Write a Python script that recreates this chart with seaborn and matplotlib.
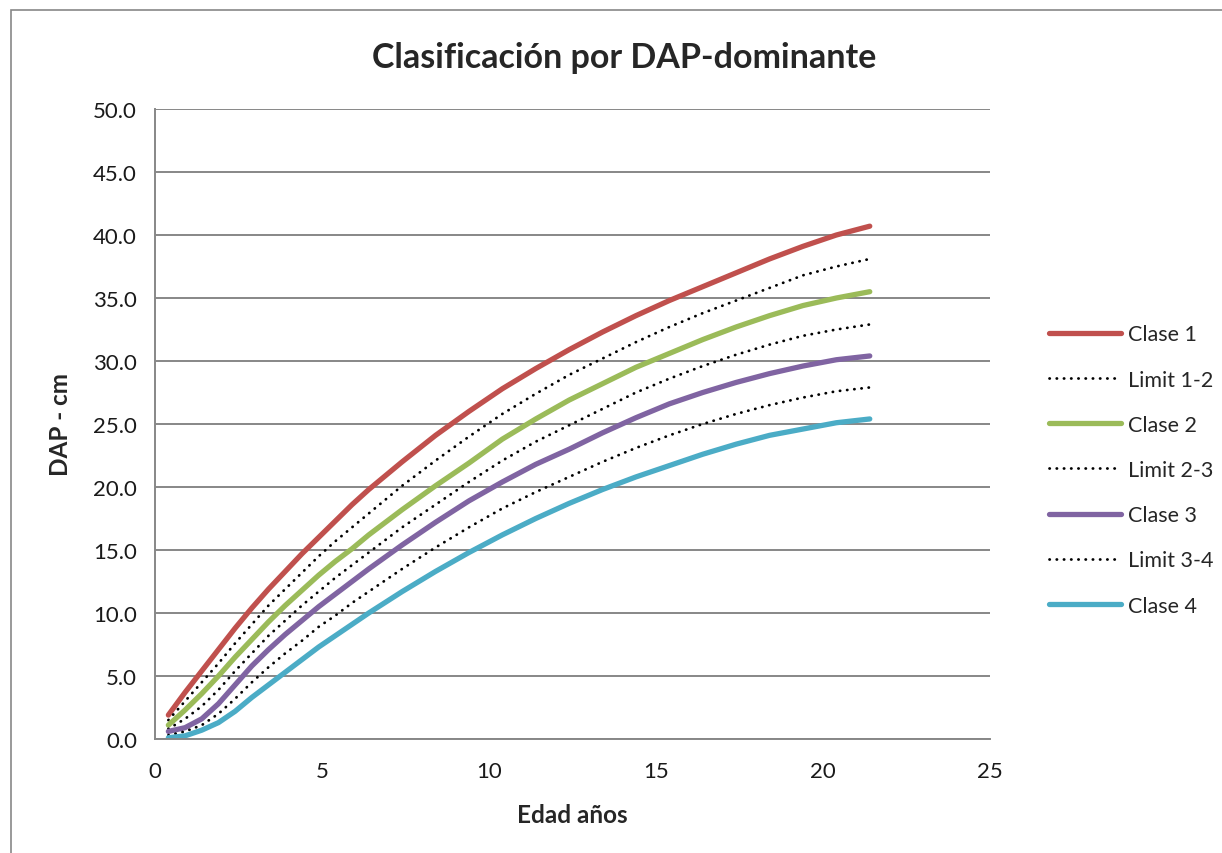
import matplotlib
matplotlib.use("Agg")
import matplotlib.pyplot as plt
import numpy as np
import pandas as pd
import seaborn as sns
from matplotlib.patches import Rectangle

# edad (años) y DAP (cm)
edad = [0.4, 0.9, 1.4, 1.9, 2.4, 2.9, 3.4, 3.9, 4.4, 4.9, 5.4, 5.9, 6.4,
        7.4, 8.4, 9.4, 10.4, 11.4, 12.4, 13.4, 14.4, 15.4, 16.4, 17.4,
        18.4, 19.4, 20.4, 21.4]

clase_1 = [1.9, 3.7, 5.4, 7.1, 8.8, 10.4, 11.9, 13.3, 14.7, 16.0, 17.3, 18.6, 19.8,
           22.0, 24.1, 26.0, 27.8, 29.4, 30.9, 32.3, 33.6, 34.8, 35.9, 37.0,
           38.1, 39.1, 40.0, 40.7]
limit_12 = [1.5, 3.0, 4.5, 6.0, 7.6, 9.1, 10.6, 11.9, 13.2, 14.5, 15.7, 16.8, 17.9,
            20.1, 22.1, 24.0, 25.8, 27.4, 28.9, 30.2, 31.5, 32.7, 33.8, 34.8,
            35.8, 36.8, 37.5, 38.1]
clase_2 = [1.1, 2.3, 3.6, 5.0, 6.5, 7.9, 9.3, 10.6, 11.8, 13.0, 14.1, 15.1, 16.2,
           18.2, 20.1, 21.9, 23.8, 25.4, 26.9, 28.2, 29.5, 30.6, 31.7, 32.7,
           33.6, 34.4, 35.0, 35.5]
limit_23 = [0.8, 1.6, 2.6, 3.9, 5.4, 6.8, 8.2, 9.4, 10.6, 11.7, 12.8, 13.8, 14.8,
            16.8, 18.6, 20.4, 22.1, 23.6, 24.9, 26.2, 27.5, 28.6, 29.6, 30.5,
            31.3, 32.0, 32.5, 32.9]
clase_3 = [0.6, 0.9, 1.6, 2.8, 4.3, 5.8, 7.1, 8.3, 9.4, 10.5, 11.5, 12.5, 13.5,
           15.4, 17.2, 18.9, 20.4, 21.8, 23.0, 24.3, 25.5, 26.6, 27.5, 28.3,
           29.0, 29.6, 30.1, 30.4]
limit_34 = [0.3, 0.6, 1.1, 2.0, 3.2, 4.5, 5.7, 6.8, 7.8, 8.9, 9.8, 10.8, 11.7,
            13.5, 15.2, 16.8, 18.3, 19.6, 20.8, 22.0, 23.1, 24.1, 25.0, 25.8,
            26.5, 27.1, 27.6, 27.9]
clase_4 = [0.1, 0.25, 0.7, 1.3, 2.2, 3.3, 4.3, 5.3, 6.3, 7.3, 8.2, 9.1, 10.0,
           11.7, 13.3, 14.8, 16.2, 17.5, 18.7, 19.8, 20.8, 21.7, 22.6, 23.4,
           24.1, 24.6, 25.1, 25.4]

series = [
    ("Clase 1", clase_1, "#C0504D", "-"),
    ("Limit 1-2", limit_12, "black", ":"),
    ("Clase 2", clase_2, "#9BBB59", "-"),
    ("Limit 2-3", limit_23, "black", ":"),
    ("Clase 3", clase_3, "#8064A2", "-"),
    ("Limit 3-4", limit_34, "black", ":"),
    ("Clase 4", clase_4, "#4BACC6", "-"),
]

sns.set_style("white")
plt.rcParams["font.family"] = ["Lato", "DejaVu Sans"]

fig = plt.figure(figsize=(12.22, 8.54), dpi=100)
ax = fig.add_axes([155 / 1222, 1 - 740 / 854, 835 / 1222, 630 / 854])

for name, vals, color, ls in series:
    df = pd.DataFrame({"edad": edad, "dap": vals})
    if ls == "-":
        sns.lineplot(data=df, x="edad", y="dap", ax=ax, color=color, lw=3.8,
                     label=name, solid_capstyle="round",
                     solid_joinstyle="round", sort=False)
    else:
        sns.lineplot(data=df, x="edad", y="dap", ax=ax, color=color, lw=2.0,
                     label=name, linestyle=(0, (0.1, 2.5)),
                     dash_capstyle="round", dash_joinstyle="round", sort=False)

ax.set_xlim(0, 25)
ax.set_ylim(0, 50)
ax.set_xticks(np.arange(0, 26, 5))
ax.set_yticks(np.arange(0, 51, 5))
ax.set_yticklabels([f"{v:.1f}" for v in np.arange(0, 51, 5)])
ax.tick_params(axis="both", length=0, labelsize=16, colors="#1a1a1a")
ax.tick_params(axis="y", pad=13)
ax.tick_params(axis="x", pad=16)
ax.yaxis.grid(True, color="#878787", lw=1.4)
ax.set_axisbelow(True)

for side in ["top", "right"]:
    ax.spines[side].set_visible(False)
for side in ["left", "bottom"]:
    ax.spines[side].set_color("#878787")
    ax.spines[side].set_linewidth(1.4)

ax.set_xlabel("Edad años", fontsize=17.5, fontweight="bold")
ax.set_ylabel("DAP - cm", fontsize=17.5, fontweight="bold")
ax.xaxis.set_label_coords(0.5, (740 - 804) / 630)
ax.yaxis.set_label_coords((72 - 155) / 835, 0.5)
fig.text(624 / 1222, 1 - 58 / 854, "Clasificación por DAP-dominante",
         ha="center", va="center", fontsize=24.5, fontweight="bold")

leg = ax.legend(loc="center left", bbox_to_anchor=(1030 / 1222, 1 - 471 / 854),
                bbox_transform=fig.transFigure, frameon=False, fontsize=15.5,
                handlelength=3.35, handletextpad=0.3, labelspacing=1.17)

# borde exterior del grafico
fig.add_artist(Rectangle((11 / 1222, -0.05), 1.2, 1 - 11 / 854 + 0.05,
                         transform=fig.transFigure, fill=False,
                         edgecolor="#878787", lw=1.2))

fig.savefig("out.png", dpi=100)
